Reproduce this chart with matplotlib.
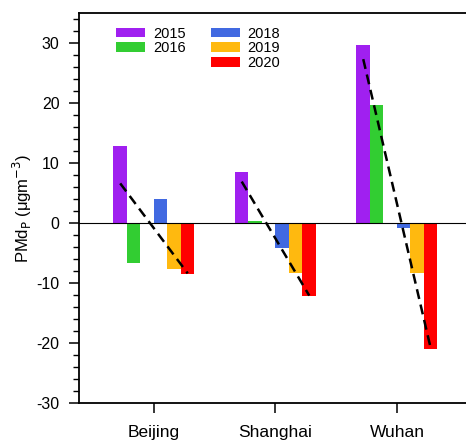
import matplotlib
matplotlib.use("Agg")
import matplotlib.pyplot as plt
import numpy as np

# data
cities = ["Beijing", "Shanghai", "Wuhan"]
years = [2015, 2016, 2017, 2018, 2019, 2020]
colors = ["#A020F0", "#32CD32", "none", "#4169E1", "#FFB90F", "#FF0000"]
pmd_2015 = [12.8, 8.5, 29.6]
pmd_2016 = [-6.6, 0.4, 19.6]
pmd_2017 = [np.nan, np.nan, np.nan]   # no bar drawn for 2017
pmd_2018 = [3.95, -4.1, -0.9]
pmd_2019 = [-7.6, -8.4, -8.4]
pmd_2020 = [-8.5, -12.2, -21.0]
# dashed trend line end points (2015 -> 2020)
trend_start = [6.6, 6.9, 27.3]
trend_end = [-8.4, -12.1, -20.9]

values = [pmd_2015, pmd_2016, pmd_2017, pmd_2018, pmd_2019, pmd_2020]

plt.rcParams['font.family'] = ['Liberation Sans', 'DejaVu Sans']
plt.rcParams['axes.unicode_minus'] = False

fig = plt.figure(figsize=(4.66, 4.41), dpi=100)
ax = fig.add_axes([0.1695, 0.0862, 0.8433, 0.8844])

x = np.arange(1, len(cities) + 1)
w = 1.0 / 9
nslot = len(years)
handles = []
for i, (yr, col, vals) in enumerate(zip(years, colors, values)):
    off = (i - (nslot - 1) / 2.0) * w
    if yr == 2017:
        h = plt.Rectangle((0, 0), 1, 1, fc="none", ec="none")
        handles.append((h, ""))
        continue
    b = ax.bar(x + off, vals, width=w, color=col, zorder=2)
    handles.append((b, str(yr)))

# trend lines from first to last year slot
x0 = x + (0 - (nslot - 1) / 2.0) * w
x1 = x + (nslot - 1 - (nslot - 1) / 2.0) * w
for i in range(len(cities)):
    ax.plot([x0[i], x1[i]], [trend_start[i], trend_end[i]], color="k",
            ls=(0, (4.0, 2.3)), lw=1.8, zorder=4)

ax.axhline(0, color="k", lw=0.8, zorder=3)

ax.set_xlim(0.383, 3.617)
ax.set_ylim(-30, 35)
ax.set_xticks(x)
ax.set_xticklabels(cities, fontsize=12.5)
ax.set_yticks([-30, -20, -10, 0, 10, 20, 30])
ax.set_yticks(np.arange(-30, 36, 2), minor=True)
ax.tick_params(axis="y", which="major", length=7, width=1.1, labelsize=11.5, pad=7)
ax.tick_params(axis="y", which="minor", length=4.3, width=1.0)
ax.tick_params(axis="x", which="major", length=7, width=1.1, pad=9)
ax.tick_params(axis="x", which="minor", length=0)
for s in ax.spines.values():
    s.set_linewidth(1.3)

ax.set_ylabel("PMd$_\\mathrm{P}$ (\u03bcgm$^{-3}$)", fontsize=12, labelpad=2)

leg = ax.legend([h for h, l in handles], [l for h, l in handles], ncol=2,
                loc="upper left", bbox_to_anchor=(0.094, 0.965), frameon=False,
                fontsize=10.5, handlelength=2.0, handleheight=0.62,
                handletextpad=0.55, columnspacing=1.7, labelspacing=0.05,
                borderpad=0, borderaxespad=0)

fig.savefig("out.png", dpi=100)
